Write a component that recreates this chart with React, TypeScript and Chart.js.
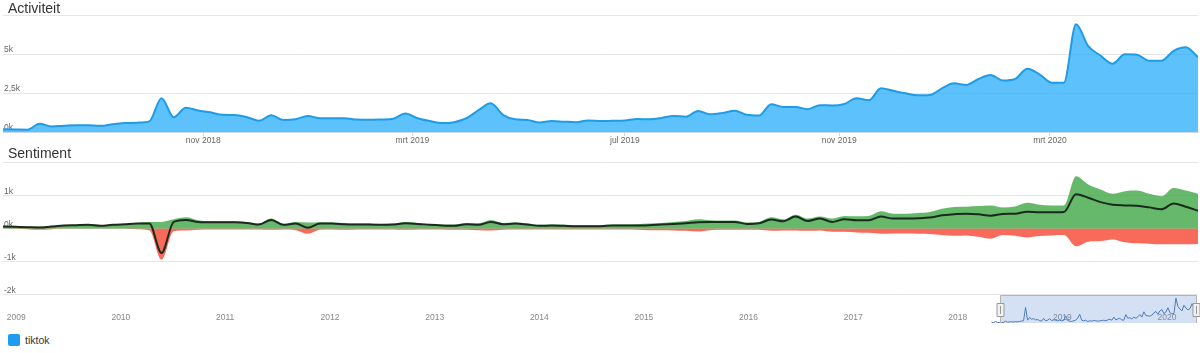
import React, { useEffect, useRef } from 'react';
import { Chart, registerables } from 'chart.js';

Chart.register(...registerables);

const FONT = '"Liberation Sans", Arial, Helvetica, sans-serif';

// weekly samples starting on this date
const START_WEEK = '2018-07-09';

const activity = [
  170, 160, 150, 530, 350, 400, 440, 430, 400, 500,
  570, 600, 680, 2160, 950, 1550, 1380, 1260, 1100, 1090,
  950, 720, 1080, 770, 820, 1030, 880, 880, 880, 800,
  780, 800, 850, 1180, 880, 700, 570, 630, 880, 1400,
  1840, 1100, 810, 770, 610, 700, 660, 630, 740, 700,
  720, 740, 830, 820, 900, 1030, 980, 1350, 1130, 1220,
  1370, 1100, 1050, 1780, 1600, 1600, 1460, 1720, 1700, 1800,
  2160, 2030, 2800, 2640, 2480, 2350, 2370, 2800, 3120, 3020,
  3400, 3650, 3300, 3400, 4050, 3700, 3160, 3160, 6900, 5500,
  4900, 4380, 4980, 4950, 4570, 4570, 5200, 5430, 4800,
];

const positive = [
  60, 60, 60, 60, 80, 100, 110, 120, 100, 120,
  140, 170, 200, 200, 280, 340, 250, 220, 220, 220,
  200, 150, 300, 140, 200, 180, 190, 180, 170, 150,
  150, 140, 150, 200, 170, 140, 120, 120, 170, 160,
  260, 170, 180, 150, 110, 120, 110, 100, 100, 100,
  120, 120, 130, 150, 170, 200, 230, 280, 250, 240,
  240, 180, 200, 340, 280, 420, 300, 360, 300, 380,
  370, 380, 520, 450, 450, 470, 500, 600, 650, 660,
  680, 700, 640, 670, 780, 720, 700, 700, 1580, 1330,
  1180, 1050, 1130, 1150, 1050, 980, 1230, 1150, 1050,
];

const negative = [
  0, -10, -20, -40, -20, -10, -10, -10, -10, -10,
  -10, -20, -50, -940, -80, -60, -40, -30, -30, -30,
  -30, -30, -40, -30, -50, -160, -40, -30, -40, -30,
  -30, -30, -30, -40, -30, -30, -30, -40, -40, -50,
  -60, -40, -30, -30, -30, -30, -30, -30, -30, -30,
  -30, -30, -40, -50, -50, -60, -70, -90, -50, -40,
  -40, -40, -40, -70, -60, -60, -70, -60, -100, -100,
  -120, -130, -160, -150, -150, -160, -170, -200, -220, -210,
  -250, -310, -200, -220, -270, -230, -210, -200, -540, -400,
  -380, -330, -420, -450, -460, -480, -480, -480, -470,
];

const net = [
  60, 50, 40, 30, 60, 90, 100, 110, 80, 110,
  130, 150, 150, -740, 200, 260, 200, 190, 190, 190,
  170, 120, 260, 110, 150, 20, 150, 150, 130, 120,
  120, 110, 120, 160, 140, 110, 90, 80, 130, 110,
  200, 130, 150, 120, 80, 90, 80, 70, 70, 70,
  90, 90, 90, 100, 120, 140, 160, 190, 200, 200,
  200, 140, 160, 270, 220, 360, 230, 300, 200, 280,
  250, 250, 360, 300, 300, 310, 330, 400, 430, 450,
  430, 390, 440, 450, 510, 490, 490, 500, 1040, 930,
  800, 720, 700, 690, 640, 580, 760, 660, 540,
];

const navigatorLeadDates = ['2018-06-11', '2018-06-18', '2018-06-25', '2018-07-02'];
const navigatorLeadValues = [300, 80, 450, 200];
const navigatorValues = [
  150, 100, 250, 600, 250, 350, 400, 300, 450, 350,
  500, 600, 750, 5000, 900, 1800, 1200, 1400, 1000, 1100,
  800, 600, 1500, 700, 900, 1400, 800, 1000, 900, 700,
  900, 700, 800, 2300, 800, 600, 500, 700, 900, 1600,
  2800, 900, 700, 900, 500, 700, 600, 800, 700, 600,
  700, 800, 900, 700, 1000, 1200, 900, 1900, 1000, 1300,
  1500, 1000, 900, 2700, 1500, 1700, 1300, 1900, 1500, 2000,
  2700, 1900, 3600, 2400, 2300, 2200, 2500, 3300, 3700, 2800,
  3900, 4300, 3000, 3500, 4900, 3300, 2900, 3100, 8000, 5300,
  4500, 3900, 5700, 4800, 4200, 4600, 6200, 5000, 4000,
];

const monthTicks = ['2018-11-01', '2019-03-01', '2019-07-01', '2019-11-01', '2020-03-01'];
const monthNames = ['jan', 'feb', 'mrt', 'apr', 'mei', 'jun', 'jul', 'aug', 'sep', 'okt', 'nov', 'dec'];
const yearTicks = [2009, 2010, 2011, 2012, 2013, 2014, 2015, 2016, 2017, 2018, 2019, 2020];
const activityTicks = [0, 2500, 5000, 7500];
const sentimentTicks = [-2000, -1000, 0, 1000, 2000];
const navigatorRange = ['2008-12-29', '2020-06-01'];

const DAY = 86400000;
const t = (s: string) => Date.parse(s + 'T00:00:00Z');
const weekDates = activity.map((_, i) => t(START_WEEK) + i * 7 * DAY);
const xMin = weekDates[0];
const xMax = weekDates[weekDates.length - 1];

const kLabel = (v: number) => String(v / 1000).replace('.', ',') + 'k';

export default function App() {
  const actRef = useRef<HTMLCanvasElement>(null);
  const sentRef = useRef<HTMLCanvasElement>(null);
  const navRef = useRef<HTMLCanvasElement>(null);

  useEffect(() => {
    const charts: Chart[] = [];
    const tickFont = { family: FONT, size: 8.5 };

    const yCommon = (ticksArr: number[], top: number) => ({
      afterBuildTicks: (s: any) => {
        s.ticks = ticksArr.map((v) => ({ value: v }));
      },
      afterFit: (s: any) => {
        s.width = 0;
      },
      grid: { color: '#e6e6e6', lineWidth: 1, drawTicks: false },
      border: { display: false },
      ticks: {
        mirror: true,
        padding: 1,
        labelOffset: -4,
        color: '#666666',
        font: tickFont,
        callback: (v: any) => (v === top ? '' : kLabel(v)),
      },
    });

    // Activiteit
    charts.push(
      new Chart(actRef.current!, {
        type: 'line',
        data: {
          datasets: [
            {
              data: weekDates.map((x, i) => ({ x, y: activity[i] })),
              borderColor: '#1f9be8',
              borderWidth: 2,
              backgroundColor: 'rgba(30,170,250,0.72)',
              fill: 'origin',
              pointRadius: 0,
              cubicInterpolationMode: 'monotone',
            },
          ],
        },
        options: {
          animation: false,
          responsive: false,
          maintainAspectRatio: false,
          events: [],
          layout: { padding: { top: 15, left: 3, right: 2, bottom: 0 } },
          plugins: { legend: { display: false }, tooltip: { enabled: false } },
          scales: {
            x: {
              type: 'linear',
              min: xMin,
              max: xMax,
              afterBuildTicks: (s: any) => {
                s.ticks = monthTicks.map((m) => ({ value: t(m) }));
              },
              afterFit: (s: any) => {
                s.height = 18;
              },
              grid: { drawOnChartArea: false, drawTicks: true, tickLength: 4, color: '#ccd6eb' },
              border: { display: true, color: '#ccd6eb' },
              ticks: {
                autoSkip: false,
                maxRotation: 0,
                padding: 0,
                color: '#666666',
                font: tickFont,
                callback: (v: any) => {
                  const d = new Date(v);
                  return monthNames[d.getUTCMonth()] + ' ' + d.getUTCFullYear();
                },
              },
            },
            y: { min: 0, max: 7500, ...yCommon(activityTicks, 7500) } as any,
          },
        } as any,
      })
    );

    // Sentiment
    charts.push(
      new Chart(sentRef.current!, {
        type: 'line',
        data: {
          datasets: [
            {
              data: weekDates.map((x, i) => ({ x, y: net[i] })),
              borderColor: '#1b2a1e',
              borderWidth: 2,
              fill: false,
              pointRadius: 0,
              cubicInterpolationMode: 'monotone',
            },
            {
              data: weekDates.map((x, i) => ({ x, y: positive[i] })),
              borderWidth: 0,
              borderColor: 'rgba(0,0,0,0)',
              backgroundColor: 'rgba(64,168,70,0.8)',
              fill: 'origin',
              pointRadius: 0,
              cubicInterpolationMode: 'monotone',
            },
            {
              data: weekDates.map((x, i) => ({ x, y: negative[i] })),
              borderWidth: 0,
              borderColor: 'rgba(0,0,0,0)',
              backgroundColor: 'rgba(246,70,50,0.8)',
              fill: 'origin',
              pointRadius: 0,
              cubicInterpolationMode: 'monotone',
            },
          ],
        },
        options: {
          animation: false,
          responsive: false,
          maintainAspectRatio: false,
          events: [],
          layout: { padding: { top: 17.5, left: 3, right: 2, bottom: 10.5 } },
          plugins: { legend: { display: false }, tooltip: { enabled: false } },
          scales: {
            x: { type: 'linear', min: xMin, max: xMax, display: false },
            y: { min: -2000, max: 2000, ...yCommon(sentimentTicks, 2000) } as any,
          },
        } as any,
      })
    );

    // Navigator
    const selectionPlugin = {
      id: 'selection',
      afterDatasetsDraw(chart: any) {
        const { ctx, chartArea, scales } = chart;
        const xs = scales.x;
        const x1 = Math.round(xs.getPixelForValue(xMin)) + 0.5;
        const x2 = Math.round(xs.getPixelForValue(xMax)) + 0.5;
        const top = chartArea.top;
        const bottom = chartArea.bottom;
        ctx.save();
        ctx.fillStyle = 'rgba(102,148,220,0.28)';
        ctx.fillRect(x1, top, x2 - x1, bottom - top);
        ctx.strokeStyle = '#b3b3b3';
        ctx.lineWidth = 1;
        ctx.beginPath();
        ctx.moveTo(x1, bottom);
        ctx.lineTo(x1, top + 0.5);
        ctx.lineTo(x2, top + 0.5);
        ctx.lineTo(x2, bottom);
        ctx.stroke();
        const cy = (top + bottom) / 2;
        [x1, x2].forEach((hx) => {
          ctx.fillStyle = '#f2f2f2';
          ctx.strokeStyle = '#999999';
          ctx.beginPath();
          ctx.rect(hx - 3.5, Math.round(cy - 6.5) + 0.5, 7, 13);
          ctx.fill();
          ctx.stroke();
          ctx.beginPath();
          ctx.moveTo(hx, Math.round(cy - 3.5));
          ctx.lineTo(hx, Math.round(cy + 4.5));
          ctx.stroke();
        });
        ctx.restore();
      },
    };

    charts.push(
      new Chart(navRef.current!, {
        type: 'line',
        data: {
          datasets: [
            {
              data: [
                ...navigatorLeadDates.map((d, i) => ({ x: t(d), y: navigatorLeadValues[i] })),
                ...weekDates.map((x, i) => ({ x, y: navigatorValues[i] })),
              ],
              borderColor: '#4a6fa8',
              borderWidth: 1,
              fill: false,
              pointRadius: 0,
              tension: 0,
            },
          ],
        },
        options: {
          animation: false,
          responsive: false,
          maintainAspectRatio: false,
          events: [],
          layout: { padding: { top: 1, left: 3, right: 2, bottom: 0 } },
          plugins: { legend: { display: false }, tooltip: { enabled: false } },
          scales: {
            x: {
              type: 'linear',
              min: t(navigatorRange[0]),
              max: t(navigatorRange[1]),
              afterBuildTicks: (s: any) => {
                s.ticks = yearTicks.map((y) => ({ value: Date.UTC(y, 0, 1) }));
              },
              afterFit: (s: any) => {
                s.height = 0;
              },
              grid: { display: true, drawOnChartArea: false, drawTicks: false },
              border: { display: true, color: '#8093b6', width: 1 },
              ticks: {
                autoSkip: false,
                maxRotation: 0,
                mirror: true,
                align: 'start',
                padding: 0,
                labelOffset: 3,
                color: '#888888',
                font: tickFont,
                callback: (v: any) => String(new Date(v).getUTCFullYear()),
              },
            },
            y: { min: 0, max: 9000, display: false },
          },
        } as any,
        plugins: [selectionPlugin],
      })
    );

    return () => charts.forEach((c) => c.destroy());
  }, []);

  const titleStyle: React.CSSProperties = {
    position: 'absolute',
    left: 8,
    fontFamily: FONT,
    fontSize: 14,
    lineHeight: '14px',
    color: '#333333',
    whiteSpace: 'nowrap',
  };

  return (
    <div
      style={{
        position: 'absolute',
        left: 0,
        top: 0,
        width: 1200,
        height: 353,
        background: '#ffffff',
        overflow: 'hidden',
        fontFamily: FONT,
      }}
    >
      <canvas ref={actRef} width={1200} height={150} style={{ position: 'absolute', left: 0, top: 0, width: 1200, height: 150 }} />
      <canvas ref={sentRef} width={1200} height={160} style={{ position: 'absolute', left: 0, top: 145, width: 1200, height: 160 }} />
      <canvas ref={navRef} width={1200} height={29} style={{ position: 'absolute', left: 0, top: 294, width: 1200, height: 29 }} />
      <div style={{ ...titleStyle, top: 1 }}>Activiteit</div>
      <div style={{ ...titleStyle, top: 146 }}>Sentiment</div>
      <div style={{ position: 'absolute', left: 8, top: 334, display: 'flex', alignItems: 'center' }}>
        <span style={{ display: 'inline-block', width: 12, height: 12, borderRadius: 2, background: '#1e9cf0' }} />
        <span style={{ marginLeft: 5, fontSize: 10.5, lineHeight: '12px', color: '#333333', fontFamily: FONT }}>tiktok</span>
      </div>
    </div>
  );
}
